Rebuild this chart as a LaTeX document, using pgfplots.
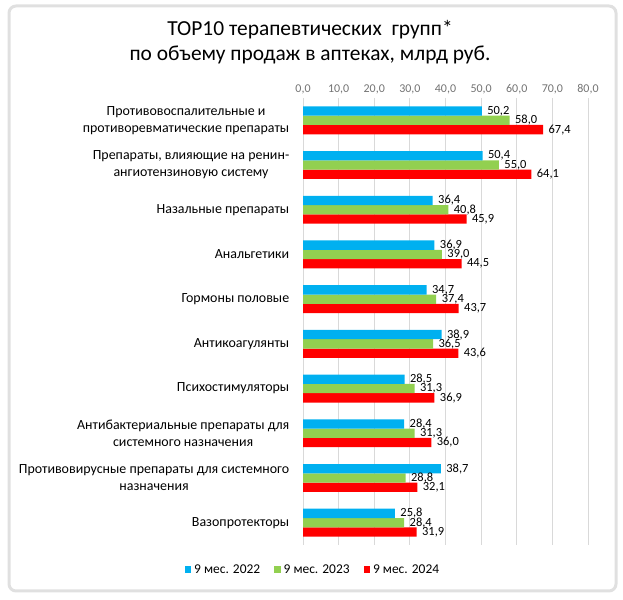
\documentclass[border=0pt]{standalone}
\usepackage{fontspec}
\setmainfont{Carlito}
\usepackage{pgfplots}
\pgfplotsset{compat=1.18}
\definecolor{cblue}{HTML}{00B0F0}
\definecolor{cgreen}{HTML}{92D050}
\definecolor{cred}{HTML}{FF0000}
\begin{document}
\begin{tikzpicture}[x=1bp,y=1bp]
\path[use as bounding box] (0,0) rectangle (623,600);
\draw[black!12, line width=3bp, rounded corners=7bp] (9,9) rectangle (616,594);
\node[align=center, font=\fontsize{21.5}{25}\selectfont] at (310,557.5) {TOP10 терапевтических\ \ групп*\\по объему продаж в аптеках, млрд руб.};
\begin{axis}[
  at={(303bp,55bp)}, anchor=south west,
  width=285bp, height=447bp, scale only axis,
  xmin=0, xmax=80, ymin=-0.5, ymax=9.5, y dir=reverse,
  xbar=0pt, bar width=9.3bp,
  xtick={0,10,...,80}, xticklabel pos=upper,
  ytick={0,...,9},
  yticklabels={{Противовоспалительные и\\противоревматические препараты},
    {Препараты, влияющие на ренин-\\ангиотензиновую систему},
    {Назальные препараты},{Анальгетики},{Гормоны половые},{Антикоагулянты},
    {Психостимуляторы},{Антибактериальные препараты для\\системного назначения},
    {Противовирусные препараты для системного\\назначения},{Вазопротекторы}},
  yticklabel style={align=center, font=\fontsize{14}{17}\selectfont, text=black, xshift=-6bp},
  xticklabel style={font=\fontsize{12}{14}\selectfont, text=black!55},
  /pgf/number format/assume math mode=true,
  /pgf/number format/.cd, fixed, fixed zerofill, precision=1, use comma, /pgfplots/.cd,
  axis line style={draw=none}, tick style={draw=none},
  xmajorgrids, grid style={black!15, line width=0.8bp},
  nodes near coords, nodes near coords align={horizontal},
  every node near coord/.append style={font=\fontsize{12.5}{14}\selectfont, text=black, anchor=west, xshift=2bp},
  legend columns=3, reverse legend,
  legend style={at={(0.035,-0.055)}, anchor=center, draw=none, fill=none, font=\fontsize{13.5}{15}\selectfont,
    /tikz/every even column/.append style={column sep=12bp},
    /tikz/every odd column/.append style={column sep=1bp}},
  legend image code/.code={\fill[#1] (0bp,-3.2bp) rectangle (6.4bp,3.2bp);},
]
\addplot[fill=cred, draw=none] coordinates {(67.4,0) (64.1,1) (45.9,2) (44.5,3) (43.7,4) (43.6,5) (36.9,6) (36.0,7) (32.1,8) (31.9,9)};
\addplot[fill=cgreen, draw=none] coordinates {(58.0,0) (55.0,1) (40.8,2) (39.0,3) (37.4,4) (36.5,5) (31.3,6) (31.3,7) (28.8,8) (28.4,9)};
\addplot[fill=cblue, draw=none] coordinates {(50.2,0) (50.4,1) (36.4,2) (36.9,3) (34.7,4) (38.9,5) (28.5,6) (28.4,7) (38.7,8) (25.8,9)};
\legend{9 мес. 2024, 9 мес. 2023, 9 мес. 2022}
\end{axis}
\end{tikzpicture}
\end{document}
